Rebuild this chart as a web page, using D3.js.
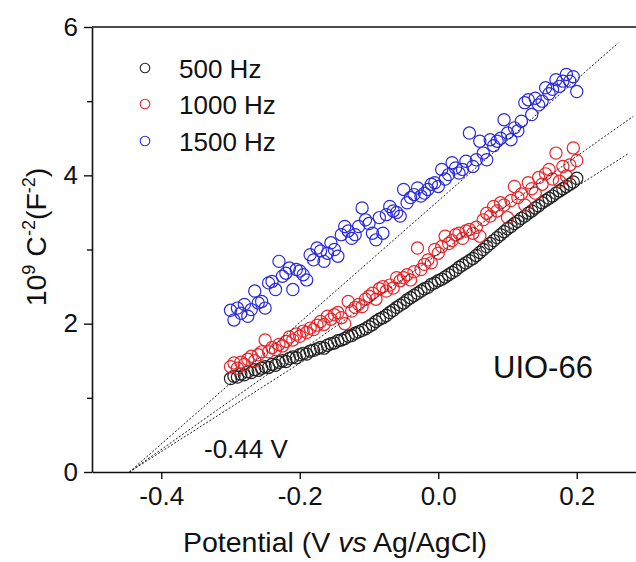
<!DOCTYPE html>
<html>
<head>
<meta charset="utf-8">
<script src="https://cdn.jsdelivr.net/npm/d3@7/dist/d3.min.js"></script>
<style>
  html, body { margin: 0; padding: 0; background: #fff; }
  svg { display: block; font-family: "Liberation Sans", Arial, sans-serif; }
</style>
</head>
<body>
<svg id="chart" width="636" height="562"></svg>
<script>
// ---------- data ----------
const potential = [
 -0.300,-0.295,-0.290,-0.285,-0.280,-0.275,-0.270,-0.265,-0.260,-0.255,
 -0.250,-0.245,-0.240,-0.235,-0.230,-0.225,-0.220,-0.215,-0.210,-0.205,
 -0.200,-0.195,-0.190,-0.185,-0.180,-0.175,-0.170,-0.165,-0.160,-0.155,
 -0.150,-0.145,-0.140,-0.135,-0.130,-0.125,-0.120,-0.115,-0.110,-0.105,
 -0.100,-0.095,-0.090,-0.085,-0.080,-0.075,-0.070,-0.065,-0.060,-0.055,
 -0.050,-0.045,-0.040,-0.035,-0.030,-0.025,-0.020,-0.015,-0.010,-0.005,
  0.000, 0.005, 0.010, 0.015, 0.020, 0.025, 0.030, 0.035, 0.040, 0.045,
  0.050, 0.055, 0.060, 0.065, 0.070, 0.075, 0.080, 0.085, 0.090, 0.095,
  0.100, 0.105, 0.110, 0.115, 0.120, 0.125, 0.130, 0.135, 0.140, 0.145,
  0.150, 0.155, 0.160, 0.165, 0.170, 0.175, 0.180, 0.185, 0.190, 0.195,
  0.200
];
const hz500 = [
 1.26,1.29,1.28,1.32,1.31,1.35,1.34,1.38,1.37,1.40,
 1.42,1.41,1.45,1.44,1.48,1.50,1.49,1.53,1.55,1.54,
 1.58,1.60,1.59,1.63,1.64,1.66,1.68,1.67,1.71,1.73,
 1.74,1.77,1.78,1.80,1.83,1.84,1.87,1.89,1.91,1.93,
 1.96,1.99,2.03,2.06,2.08,2.11,2.15,2.18,2.22,2.25,
 2.28,2.32,2.35,2.38,2.41,2.44,2.47,2.49,2.53,2.55,
 2.58,2.60,2.63,2.66,2.69,2.72,2.76,2.79,2.82,2.85,
 2.88,2.92,2.96,3.00,3.04,3.08,3.12,3.16,3.20,3.24,
 3.28,3.31,3.35,3.38,3.42,3.45,3.49,3.52,3.56,3.59,
 3.63,3.66,3.69,3.72,3.76,3.79,3.82,3.85,3.88,3.91,
 3.96
];
const hz1000 = [
 1.42,1.47,1.40,1.48,1.45,1.52,1.56,1.50,1.58,1.62,
 1.78,1.62,1.68,1.65,1.72,1.70,1.76,1.82,1.78,1.86,
 1.83,1.90,1.88,1.94,1.92,1.98,2.03,1.99,2.10,2.06,
 2.12,2.15,2.08,2.00,2.30,2.17,2.22,2.26,2.23,2.33,
 2.37,2.41,2.33,2.47,2.50,2.44,2.52,2.48,2.62,2.58,
 2.62,2.66,2.59,2.70,3.02,2.73,2.80,2.86,2.82,3.00,
 2.95,3.04,3.18,3.08,3.12,3.20,3.22,3.15,3.25,3.27,
 3.22,3.30,3.18,3.40,3.49,3.45,3.58,3.52,3.63,3.60,
 3.43,3.66,3.85,3.70,3.75,3.60,3.90,3.82,3.76,3.97,
 3.88,4.02,4.08,3.95,4.30,3.92,4.12,3.99,4.14,4.37,
 4.20
];
const hz1500 = [
 2.18,2.05,2.21,2.14,2.26,2.10,2.19,2.44,2.28,2.30,
 2.21,2.55,2.57,2.46,2.84,2.64,2.68,2.75,2.46,2.73,
 2.71,2.66,2.59,2.93,2.86,3.02,2.98,2.84,2.95,3.09,
 3.00,2.91,3.20,3.31,3.25,3.15,3.20,3.31,3.56,3.40,
 3.35,3.22,3.13,3.43,3.22,3.47,3.58,3.52,3.50,3.45,
 3.81,3.63,3.70,3.74,3.83,3.72,3.76,3.81,3.88,3.90,
 3.85,4.08,3.95,4.01,4.17,4.10,4.03,4.08,4.19,4.57,
 4.12,4.21,4.46,4.30,4.21,4.48,4.40,4.46,4.50,4.75,
 4.57,4.48,4.64,4.60,4.73,4.98,5.02,4.82,5.04,4.95,
 5.00,5.18,5.10,5.16,5.29,5.20,5.27,5.36,5.27,5.33,
 5.13
];
const seriesNames = ["500 Hz", "1000 Hz", "1500 Hz"];
const seriesColors = ["#222222", "#e8262b", "#2a2ae0"];
// linear fits (start and end points)
const fitStartX = [-0.446, -0.446, -0.446];
const fitEndX = [0.2744, 0.2816, 0.260];
const fitEndY = [4.293, 4.796, 5.786];
const xTicks = [-0.4, -0.2, 0.0, 0.2];
const yTicks = [0, 2, 4, 6];
const yMinorTicks = [1, 3, 5];

// ---------- layout ----------
const svg = d3.select("#chart");
const x = d3.scaleLinear().domain([-0.5, 0.3]).range([92, 646]);
const y = d3.scaleLinear().domain([0, 6]).range([472, 27]);
const FONT = 26;

const seriesData = [hz500, hz1000, hz1500];

// data circles
seriesData.forEach((vals, si) => {
  svg.append("g")
    .selectAll("circle")
    .data(vals.map((v, i) => [potential[i], v]))
    .join("circle")
    .attr("cx", d => x(d[0]))
    .attr("cy", d => y(d[1]))
    .attr("r", 6.1)
    .attr("fill", "none")
    .attr("stroke", seriesColors[si])
    .attr("stroke-width", 1.2);
});

// fit lines
const fitLine = d3.line().x(d => x(d[0])).y(d => y(d[1]));
fitStartX.forEach((sx, i) => {
  svg.append("path")
    .attr("d", fitLine([[sx, 0], [fitEndX[i], fitEndY[i]]]))
    .attr("fill", "none")
    .attr("stroke", "#222")
    .attr("stroke-width", 1)
    .attr("stroke-dasharray", "2,1.8");
});

// axes
const xAxis = d3.axisBottom(x).tickValues(xTicks).tickSize(7).tickSizeOuter(0)
  .tickFormat(d3.format(".1f")).tickPadding(8);
const gx = svg.append("g").attr("transform", `translate(0,${y(0)})`).call(xAxis);
gx.select(".domain").attr("stroke", "#111").attr("stroke-width", 1.6);
gx.selectAll(".tick line").attr("stroke", "#111").attr("stroke-width", 1.4);
gx.selectAll(".tick text")
  .attr("font-size", FONT).attr("fill", "#111")
  .attr("font-family", "Liberation Sans, Arial, sans-serif")
  .text(d => d3.format(".1f")(d).replace("−", "-"));

const yAxis = d3.axisLeft(y).tickValues(yTicks).tickSize(8).tickSizeOuter(0)
  .tickFormat(d3.format("d")).tickPadding(6);
const gy = svg.append("g").attr("transform", `translate(${x(-0.5)},0)`).call(yAxis);
gy.select(".domain").attr("stroke", "#111").attr("stroke-width", 1.6);
gy.selectAll(".tick line").attr("stroke", "#111").attr("stroke-width", 1.4);
gy.selectAll(".tick text")
  .attr("font-size", FONT).attr("fill", "#111")
  .attr("font-family", "Liberation Sans, Arial, sans-serif");

const gyMinor = d3.axisLeft(y).tickValues(yMinorTicks).tickSize(5).tickFormat("").tickSizeOuter(0);
const gym = svg.append("g").attr("transform", `translate(${x(-0.5)},0)`).call(gyMinor);
gym.select(".domain").remove();
gym.selectAll(".tick line").attr("stroke", "#111").attr("stroke-width", 1.4);

// top frame line
svg.append("line")
  .attr("x1", x(-0.5)).attr("x2", x(0.3))
  .attr("y1", y(6)).attr("y2", y(6))
  .attr("stroke", "#111").attr("stroke-width", 1.6);

// axis titles
const xt = svg.append("text")
  .attr("x", 335).attr("y", 552)
  .attr("text-anchor", "middle")
  .attr("font-size", 28.5).attr("fill", "#111");
xt.append("tspan").text("Potential (V ");
xt.append("tspan").attr("font-style", "italic").text("vs");
xt.append("tspan").text(" Ag/AgCl)");

const yt = svg.append("text")
  .attr("transform", "translate(46,237) rotate(-90)")
  .attr("text-anchor", "middle")
  .attr("font-size", 28.5).attr("fill", "#111");
yt.append("tspan").text("10");
yt.append("tspan").attr("font-size", 18).attr("dy", -11).text("9");
yt.append("tspan").attr("dy", 11).text(" C");
yt.append("tspan").attr("font-size", 18).attr("dy", -11).text("-2");
yt.append("tspan").attr("dy", 11).text("(F");
yt.append("tspan").attr("font-size", 18).attr("dy", -11).text("-2");
yt.append("tspan").attr("dy", 11).text(")");

// legend
const legendY = [68, 104, 141];
seriesNames.forEach((name, i) => {
  svg.append("circle")
    .attr("cx", 145).attr("cy", legendY[i]).attr("r", 4.8)
    .attr("fill", "none").attr("stroke", seriesColors[i]).attr("stroke-width", 1.1);
  svg.append("text")
    .attr("x", 179).attr("y", legendY[i] + 9.5)
    .attr("font-size", FONT).attr("fill", "#111")
    .text(name);
});

// annotations
svg.append("text").attr("x", 204).attr("y", 458)
  .attr("font-size", FONT).attr("fill", "#111").text("-0.44 V");
svg.append("text").attr("x", 493).attr("y", 378)
  .attr("font-size", 31).attr("fill", "#111").text("UIO-66");
</script>
</body>
</html>
